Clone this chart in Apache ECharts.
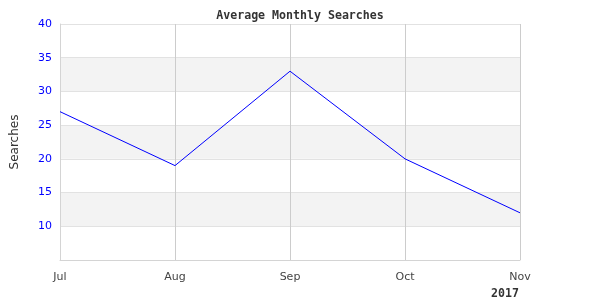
<!DOCTYPE html>
<html><head><meta charset="utf-8">
<script src="https://cdn.jsdelivr.net/npm/echarts@6/dist/echarts.min.js"></script>
<style>html,body{margin:0;padding:0;background:#fff}#c{width:600px;height:300px}</style>
</head><body><div id="c"></div>
<script>
const categories = ['Jul', 'Aug', 'Sep', 'Oct', 'Nov'];
const searches = [27, 19, 33, 20, 12];
const yTicks = [10, 15, 20, 25, 30, 35, 40];

const chart = echarts.init(document.getElementById('c'));
chart.setOption({
  animation: false,
  backgroundColor: '#fff',
  title: {
    text: 'Average Monthly Searches', left: 'center', top: 5,
    textStyle: { fontFamily: 'DejaVu Sans Mono', fontWeight: 'bold', fontSize: 11.6, color: '#333' }
  },
  graphic: [{
    type: 'text', right: 81, top: 288,
    style: { text: '2017', font: 'bold 11.6px "DejaVu Sans Mono"', fill: '#333' }
  }],
  grid: { left: 60, top: 24, width: 460, height: 236, containLabel: false, outerBoundsMode: 'none' },
  xAxis: {
    type: 'category', data: categories, boundaryGap: false,
    axisLine: { show: true, lineStyle: { color: '#d4d4d4' } },
    axisTick: { show: false },
    axisLabel: { color: '#444', fontFamily: 'DejaVu Sans', fontSize: 11, margin: 12 },
    splitLine: { show: true, lineStyle: { color: '#cccccc' } }
  },
  yAxis: {
    type: 'value', min: 5, max: 40, interval: 5,
    name: 'Searches', nameLocation: 'middle', nameGap: 39, nameRotate: 90,
    nameTextStyle: { fontFamily: 'DejaVu Sans', fontSize: 12, color: '#333' },
    axisLine: { show: true, lineStyle: { color: '#d4d4d4' } },
    axisTick: { show: false },
    axisLabel: {
      color: '#0000ff', fontFamily: 'DejaVu Sans', fontSize: 11, margin: 8,
      formatter: v => yTicks.includes(v) ? String(v) : ''
    },
    splitLine: { show: true, lineStyle: { color: '#e2e2e2' } },
    splitArea: { show: true, areaStyle: { color: ['#ffffff', '#f3f3f3'] } }
  },
  series: [{
    type: 'line', data: searches, symbol: 'none',
    lineStyle: { color: '#0000ff', width: 1 }
  }]
});
</script></body></html>
